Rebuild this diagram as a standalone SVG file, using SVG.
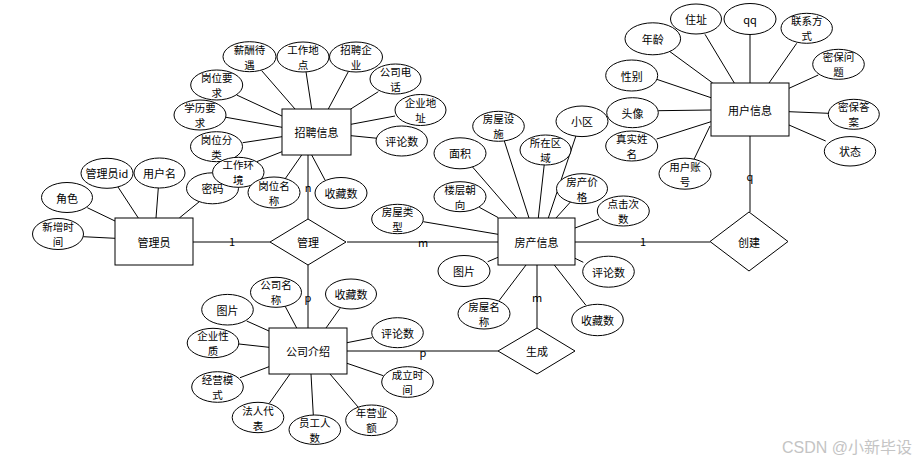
<svg xmlns="http://www.w3.org/2000/svg" width="922" height="462" viewBox="0 0 922 462">
<style>
.e{fill:#fff;stroke:#000;stroke-width:1}
.r{fill:#fff;stroke:#000;stroke-width:1}
.d{fill:#fff;stroke:#000;stroke-width:1}
.c line{stroke:#000;stroke-width:1}
text{font-family:"Noto Sans CJK SC","Liberation Sans",sans-serif;font-size:11px;fill:#000;text-anchor:middle;dominant-baseline:central}
.s{font-size:10.5px}
.wm{font-family:"Liberation Sans","Noto Sans CJK SC",sans-serif;font-size:16px;fill:#c4c4c4;text-anchor:start}
</style>
<rect width="922" height="462" fill="#fff"/>
<g id="connectors" class="c">
<line x1="261.7" y1="70.7" x2="295" y2="109"/>
<line x1="306" y1="71.7" x2="311.7" y2="109"/>
<line x1="348.3" y1="71.7" x2="328.3" y2="109"/>
<line x1="378.3" y1="91.7" x2="350.7" y2="109"/>
<line x1="395" y1="116" x2="351" y2="124.3"/>
<line x1="377.3" y1="138.3" x2="351" y2="135.7"/>
<line x1="236.7" y1="95" x2="282" y2="116"/>
<line x1="226" y1="117.3" x2="282" y2="127.3"/>
<line x1="242.7" y1="142.7" x2="282" y2="136.7"/>
<line x1="256.7" y1="161.7" x2="282" y2="151.7"/>
<line x1="285" y1="179" x2="301.7" y2="155"/>
<line x1="325" y1="180" x2="311.7" y2="155"/>
<line x1="87.3" y1="207.7" x2="115" y2="221"/>
<line x1="116.7" y1="185" x2="138.3" y2="218"/>
<line x1="158.3" y1="188" x2="156" y2="218"/>
<line x1="199.3" y1="201.7" x2="179.3" y2="218"/>
<line x1="83.3" y1="236.7" x2="115" y2="238.3"/>
<line x1="670" y1="51.7" x2="712.7" y2="83"/>
<line x1="705" y1="34.3" x2="734.3" y2="83"/>
<line x1="750" y1="34.3" x2="750" y2="83"/>
<line x1="796.7" y1="43.3" x2="769" y2="83"/>
<line x1="818.3" y1="75" x2="789" y2="88.3"/>
<line x1="828.3" y1="113.3" x2="789" y2="111.7"/>
<line x1="825.7" y1="141" x2="789" y2="125"/>
<line x1="656.7" y1="79.3" x2="711" y2="97.7"/>
<line x1="658.3" y1="110.7" x2="711" y2="110"/>
<line x1="656.7" y1="139" x2="711" y2="121.7"/>
<line x1="694" y1="159.3" x2="710" y2="126"/>
<line x1="471.7" y1="166" x2="516.7" y2="218"/>
<line x1="504" y1="140" x2="529" y2="218"/>
<line x1="544.3" y1="164" x2="538.3" y2="218"/>
<line x1="576" y1="135.7" x2="548.3" y2="218"/>
<line x1="570.7" y1="201.7" x2="556" y2="218"/>
<line x1="599" y1="219" x2="575" y2="228"/>
<line x1="479.3" y1="207.3" x2="498" y2="217.5"/>
<line x1="423.3" y1="221.7" x2="498" y2="234.3"/>
<line x1="487.7" y1="261.7" x2="498" y2="257.3"/>
<line x1="499" y1="300.7" x2="526" y2="265"/>
<line x1="583.3" y1="262.3" x2="575" y2="258.3"/>
<line x1="585.7" y1="305" x2="554.3" y2="265"/>
<line x1="285" y1="306" x2="296.7" y2="328"/>
<line x1="340" y1="308.3" x2="326" y2="328"/>
<line x1="246.7" y1="321" x2="269" y2="331"/>
<line x1="372.3" y1="337.7" x2="347" y2="342.7"/>
<line x1="239" y1="344" x2="269" y2="347.3"/>
<line x1="383.3" y1="375.7" x2="347" y2="363.3"/>
<line x1="240" y1="377.7" x2="269" y2="366.7"/>
<line x1="269.3" y1="403.3" x2="290" y2="374"/>
<line x1="313.3" y1="415" x2="311" y2="374"/>
<line x1="358.3" y1="407.3" x2="330" y2="374"/>
<line x1="193" y1="242" x2="270" y2="242"/>
<line x1="347" y1="242" x2="498" y2="242"/>
<line x1="575" y1="242" x2="710" y2="242"/>
<line x1="750" y1="136" x2="750" y2="212"/>
<line x1="308" y1="155" x2="308" y2="219"/>
<line x1="308" y1="265" x2="308" y2="328"/>
<line x1="347" y1="351" x2="498" y2="351"/>
<line x1="537" y1="265" x2="537" y2="328"/>
<text x="232" y="241">1</text>
<text x="423" y="242">m</text>
<text x="643" y="241">1</text>
<text x="750" y="176">q</text>
<text x="308" y="187">n</text>
<text x="308" y="297">p</text>
<text x="423" y="352">p</text>
<text x="537" y="297">m</text>
</g>
<g id="zhaopin">
<rect class="r" x="282" y="109" width="69" height="46"/>
<text x="316.5" y="132">招聘信息</text>
</g>
<g id="yonghu">
<rect class="r" x="711" y="83" width="78" height="53"/>
<text x="750" y="110">用户信息</text>
</g>
<g id="guanliyuan">
<rect class="r" x="115" y="218" width="78" height="47"/>
<text x="154" y="242">管理员</text>
</g>
<g id="fangchan">
<rect class="r" x="498" y="218" width="77" height="47"/>
<text x="536.5" y="242">房产信息</text>
</g>
<g id="gongsi">
<rect class="r" x="269" y="328" width="78" height="46"/>
<text x="308" y="351">公司介绍</text>
</g>
<g id="guanli">
<polygon class="d" points="270,242 308,219 346,242 308,265"/>
<text x="308" y="242">管理</text>
</g>
<g id="chuangjian">
<polygon class="d" points="710,241.5 749,212 788,241.5 749,271"/>
<text x="749" y="242">创建</text>
</g>
<g id="shengcheng">
<polygon class="d" points="498,351 537,328 575,351 537,374"/>
<text x="537" y="351">生成</text>
</g>
<g id="a-xinchou"><ellipse class="e" cx="249.5" cy="56.7" rx="26.5" ry="15"/><text class="s" x="249.5" y="49.2">薪酬待</text><text class="s" x="249.5" y="64.2">遇</text></g>
<g id="a-gzdd"><ellipse class="e" cx="303" cy="57" rx="26" ry="15"/><text class="s" x="303" y="49.5">工作地</text><text class="s" x="303" y="64.5">点</text></g>
<g id="a-zpqy"><ellipse class="e" cx="356" cy="57" rx="26.5" ry="15"/><text class="s" x="356" y="49.5">招聘企</text><text class="s" x="356" y="64.5">业</text></g>
<g id="a-gsdh"><ellipse class="e" cx="395.5" cy="79" rx="25.5" ry="15"/><text class="s" x="395.5" y="71.5">公司电</text><text class="s" x="395.5" y="86.5">话</text></g>
<g id="a-qydz"><ellipse class="e" cx="420.5" cy="110" rx="25.5" ry="15.5"/><text class="s" x="420.5" y="102.5">企业地</text><text class="s" x="420.5" y="117.5">址</text></g>
<g id="a-zp-pls"><ellipse class="e" cx="401.7" cy="141" rx="25.7" ry="15"/><text x="401.7" y="141">评论数</text></g>
<g id="a-gwyq"><ellipse class="e" cx="216.7" cy="85" rx="26" ry="15"/><text class="s" x="216.7" y="77.5">岗位要</text><text class="s" x="216.7" y="92.5">求</text></g>
<g id="a-xlyq"><ellipse class="e" cx="200" cy="115" rx="26" ry="15"/><text class="s" x="200" y="107.5">学历要</text><text class="s" x="200" y="122.5">求</text></g>
<g id="a-gwfl"><ellipse class="e" cx="216.5" cy="146.7" rx="26" ry="15"/><text class="s" x="216.5" y="139.2">岗位分</text><text class="s" x="216.5" y="154.2">类</text></g>
<g id="a-mima"><ellipse class="e" cx="212.5" cy="188.3" rx="26" ry="15.5"/><text x="212.5" y="188.3">密码</text></g>
<g id="a-gzhj"><ellipse class="e" cx="238.3" cy="172.3" rx="25.7" ry="15"/><text class="s" x="238.3" y="164.8">工作环</text><text class="s" x="238.3" y="179.8">境</text></g>
<g id="a-gwmc"><ellipse class="e" cx="274" cy="192.5" rx="26" ry="15.5"/><text class="s" x="274" y="185">岗位名</text><text class="s" x="274" y="200">称</text></g>
<g id="a-zp-scs"><ellipse class="e" cx="341" cy="193" rx="26" ry="15.5"/><text x="341" y="193">收藏数</text></g>
<g id="a-glyid"><ellipse class="e" cx="107" cy="173.3" rx="26" ry="15"/><text x="107" y="173.3">管理员id</text></g>
<g id="a-yhm"><ellipse class="e" cx="159.5" cy="173" rx="25.5" ry="15"/><text x="159.5" y="173">用户名</text></g>
<g id="a-juese"><ellipse class="e" cx="67" cy="197.5" rx="25.5" ry="15"/><text x="67" y="197.5">角色</text></g>
<g id="a-xzsj"><ellipse class="e" cx="58" cy="234" rx="25.5" ry="15.5"/><text class="s" x="58" y="226.5">新增时</text><text class="s" x="58" y="241.5">间</text></g>
<g id="a-nianling"><ellipse class="e" cx="652.8" cy="38.8" rx="27.8" ry="16"/><text x="652.8" y="38.8">年龄</text></g>
<g id="a-zhuzhi"><ellipse class="e" cx="696" cy="19" rx="25.5" ry="15"/><text x="696" y="19">住址</text></g>
<g id="a-qq"><ellipse class="e" cx="750" cy="19" rx="26" ry="15.5"/><text x="750" y="19">qq</text></g>
<g id="a-lxfs"><ellipse class="e" cx="806.7" cy="28.3" rx="25.7" ry="15"/><text class="s" x="806.7" y="20.8">联系方</text><text class="s" x="806.7" y="35.8">式</text></g>
<g id="a-mbwt"><ellipse class="e" cx="838.5" cy="64.3" rx="25.8" ry="15"/><text class="s" x="838.5" y="56.8">密保问</text><text class="s" x="838.5" y="71.8">题</text></g>
<g id="a-mbda"><ellipse class="e" cx="853.8" cy="114.3" rx="25.5" ry="15"/><text class="s" x="853.8" y="106.8">密保答</text><text class="s" x="853.8" y="121.8">案</text></g>
<g id="a-zhuangtai"><ellipse class="e" cx="850" cy="151.3" rx="25.7" ry="14.7"/><text x="850" y="151.3">状态</text></g>
<g id="a-xingbie"><ellipse class="e" cx="631.7" cy="75.5" rx="26" ry="15.5"/><text x="631.7" y="75.5">性别</text></g>
<g id="a-touxiang"><ellipse class="e" cx="632.5" cy="112.7" rx="25.8" ry="15"/><text x="632.5" y="112.7">头像</text></g>
<g id="a-zsxm"><ellipse class="e" cx="631.7" cy="146" rx="26" ry="15"/><text class="s" x="631.7" y="138.5">真实姓</text><text class="s" x="631.7" y="153.5">名</text></g>
<g id="a-yhzh"><ellipse class="e" cx="685" cy="173.7" rx="26" ry="15.5"/><text class="s" x="685" y="166.2">用户账</text><text class="s" x="685" y="181.2">号</text></g>
<g id="a-mianji"><ellipse class="e" cx="460" cy="153.3" rx="26" ry="15.5"/><text x="460" y="153.3">面积</text></g>
<g id="a-fwss"><ellipse class="e" cx="498.5" cy="126.3" rx="25.8" ry="15"/><text class="s" x="498.5" y="118.8">房屋设</text><text class="s" x="498.5" y="133.8">施</text></g>
<g id="a-szqy"><ellipse class="e" cx="545.5" cy="150" rx="25.5" ry="15"/><text class="s" x="545.5" y="142.5">所在区</text><text class="s" x="545.5" y="157.5">域</text></g>
<g id="a-xiaoqu"><ellipse class="e" cx="582" cy="121.3" rx="26" ry="15.3"/><text x="582" y="121.3">小区</text></g>
<g id="a-fcjg"><ellipse class="e" cx="582" cy="188.7" rx="25.5" ry="15"/><text class="s" x="582" y="181.2">房产价</text><text class="s" x="582" y="196.2">格</text></g>
<g id="a-djcs"><ellipse class="e" cx="623.3" cy="211" rx="26" ry="15"/><text class="s" x="623.3" y="203.5">点击次</text><text class="s" x="623.3" y="218.5">数</text></g>
<g id="a-lccx"><ellipse class="e" cx="460" cy="196.7" rx="26" ry="15"/><text class="s" x="460" y="189.2">楼层朝</text><text class="s" x="460" y="204.2">向</text></g>
<g id="a-fwlx"><ellipse class="e" cx="397.5" cy="219" rx="25.8" ry="14.7"/><text class="s" x="397.5" y="211.5">房屋类</text><text class="s" x="397.5" y="226.5">型</text></g>
<g id="a-fc-tp"><ellipse class="e" cx="464" cy="271" rx="26" ry="15.5"/><text x="464" y="271">图片</text></g>
<g id="a-fwmc"><ellipse class="e" cx="484" cy="313.7" rx="26" ry="15.3"/><text class="s" x="484" y="306.2">房屋名</text><text class="s" x="484" y="321.2">称</text></g>
<g id="a-fc-pls"><ellipse class="e" cx="608.5" cy="271.7" rx="25.8" ry="15.5"/><text x="608.5" y="271.7">评论数</text></g>
<g id="a-fc-scs"><ellipse class="e" cx="597.5" cy="320" rx="25.8" ry="15.7"/><text x="597.5" y="320">收藏数</text></g>
<g id="a-gsmc"><ellipse class="e" cx="276" cy="292.3" rx="25.5" ry="15"/><text class="s" x="276" y="284.8">公司名</text><text class="s" x="276" y="299.8">称</text></g>
<g id="a-gs-scs"><ellipse class="e" cx="351" cy="294" rx="25.5" ry="15"/><text x="351" y="294">收藏数</text></g>
<g id="a-gs-tp"><ellipse class="e" cx="227.5" cy="309.7" rx="25.8" ry="15.3"/><text x="227.5" y="309.7">图片</text></g>
<g id="a-gs-pls"><ellipse class="e" cx="397.5" cy="332.7" rx="25.8" ry="15"/><text x="397.5" y="332.7">评论数</text></g>
<g id="a-qyxz"><ellipse class="e" cx="213" cy="343" rx="25.8" ry="14.7"/><text class="s" x="213" y="335.5">企业性</text><text class="s" x="213" y="350.5">质</text></g>
<g id="a-clsj"><ellipse class="e" cx="407.5" cy="382" rx="25.8" ry="15.3"/><text class="s" x="407.5" y="374.5">成立时</text><text class="s" x="407.5" y="389.5">间</text></g>
<g id="a-jyms"><ellipse class="e" cx="217.5" cy="387" rx="25.8" ry="15.3"/><text class="s" x="217.5" y="379.5">经营模</text><text class="s" x="217.5" y="394.5">式</text></g>
<g id="a-frdb"><ellipse class="e" cx="258" cy="417.5" rx="25.8" ry="15.2"/><text class="s" x="258" y="410">法人代</text><text class="s" x="258" y="425">表</text></g>
<g id="a-ygrs"><ellipse class="e" cx="314.8" cy="429.7" rx="25.8" ry="14.7"/><text class="s" x="314.8" y="422.2">员工人</text><text class="s" x="314.8" y="437.2">数</text></g>
<g id="a-nyye"><ellipse class="e" cx="371.5" cy="420.3" rx="25.8" ry="15.3"/><text class="s" x="371.5" y="412.8">年营业</text><text class="s" x="371.5" y="427.8">额</text></g>
<text class="wm" x="782" y="447">CSDN @小新毕设</text>
</svg>
